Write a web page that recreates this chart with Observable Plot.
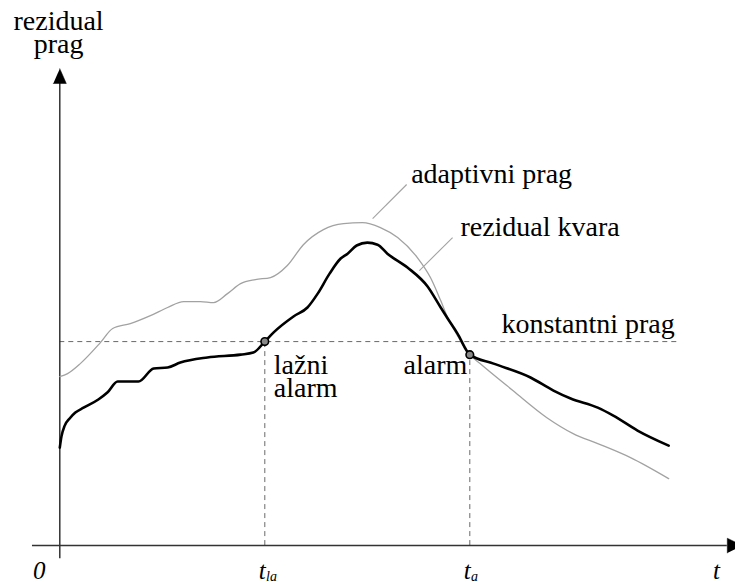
<!DOCTYPE html>
<html>
<head>
<meta charset="utf-8">
<script src="https://cdn.jsdelivr.net/npm/d3@7"></script>
<script src="https://cdn.jsdelivr.net/npm/@observablehq/plot@0.6"></script>
<style>
  html, body { margin: 0; padding: 0; background: #fff; }
</style>
</head>
<body>
<div id="chart"></div>
<script>
// ---- data (time t, residual value r; constant threshold = 1) ----
const tResidual = [0, 0.04, 0.12, 0.24, 0.38, 0.58, 0.94, 1.16, 1.41, 1.92, 2.29, 2.63, 2.94, 3.6, 4.41, 4.72, 5.0, 5.21, 5.7, 6.04, 6.29, 6.58, 6.85, 7.02, 7.24, 7.5, 7.75, 7.99, 8.48, 8.97, 9.29, 9.46, 9.7, 10.0, 10.58, 11.48, 12.04, 12.46, 13.12, 13.5, 14.09, 14.85];
const residual = [0.48, 0.534, 0.588, 0.623, 0.652, 0.676, 0.716, 0.75, 0.804, 0.804, 0.868, 0.873, 0.897, 0.922, 0.936, 0.946, 1.0, 1.044, 1.123, 1.167, 1.235, 1.333, 1.407, 1.431, 1.471, 1.485, 1.475, 1.431, 1.363, 1.27, 1.167, 1.113, 1.039, 0.936, 0.892, 0.824, 0.76, 0.721, 0.676, 0.637, 0.564, 0.49];

const tAdaptive = [0, 0.19, 0.5, 0.99, 1.29, 1.72, 2.21, 2.63, 3.02, 3.43, 3.75, 4.09, 4.41, 4.77, 5.14, 5.55, 5.94, 6.43, 6.92, 7.38, 7.82, 8.24, 8.72, 9.04, 9.29, 9.46, 9.7, 10.0, 10.25, 11.05, 11.88, 12.52, 13.12, 13.92, 14.85];
const adaptive = [0.828, 0.843, 0.892, 0.995, 1.064, 1.088, 1.127, 1.167, 1.196, 1.196, 1.191, 1.235, 1.284, 1.304, 1.314, 1.373, 1.475, 1.549, 1.578, 1.583, 1.559, 1.51, 1.412, 1.314, 1.201, 1.118, 1.029, 0.936, 0.892, 0.76, 0.627, 0.549, 0.5, 0.431, 0.328];

const constantThreshold = 1.0;
const thresholdEnd = 15.1;
const tFalseAlarm = 5;
const tAlarm = 10;
const rAlarm = 0.936;

// annotation labels and their anchor points (data units)
const labelText = ["adaptivni prag", "rezidual kvara", "konstantni prag", "lažni", "alarm", "alarm", "rezidual", "prag"];
const labelT =    [8.57, 9.77, 10.77, 5.22, 5.22, 9.94, -0.03, -0.03];
const labelR =    [1.775, 1.52, 1.044, 0.843, 0.730, 0.843, 2.525, 2.417];
const labelAnchor = ["start", "start", "start", "start", "start", "end", "middle", "middle"];

// leader lines from curves to labels
const leaderT1 = [7.63, 8.77];
const leaderR1 = [1.603, 1.348];
const leaderT2 = [8.46, 9.58];
const leaderR2 = [1.770, 1.510];

// x-axis tick labels (italic)
const tickText = ["0", "t", "t", "t"];
const tickT = [-0.50, 15.93, 5.02, 10.02];
const tickAnchor = ["middle", "start", "end", "end"];
const subText = ["la", "a"];
const subT = [5.03, 10.03];

// axis extents
const xAxisStart = -0.666, xAxisEnd = 16.28, xArrowTip = 16.65;
const yAxisStart = -0.064, yAxisEnd = 2.265, yArrowTip = 2.338;

// ---- build tables ----
const residualData = tResidual.map((t, i) => ({t, r: residual[i]}));
const adaptiveData = tAdaptive.map((t, i) => ({t, r: adaptive[i]}));
const labels = labelText.map((text, i) => ({text, t: labelT[i], r: labelR[i], anchor: labelAnchor[i]}));
const leaders = leaderT1.map((t1, i) => ({t1, r1: leaderR1[i], t2: leaderT2[i], r2: leaderR2[i]}));
const ticks = tickText.map((text, i) => ({text, t: tickT[i], anchor: tickAnchor[i]}));
const subs = subText.map((text, i) => ({text, t: subT[i]}));
const alarms = [{t: tFalseAlarm, r: constantThreshold}, {t: tAlarm, r: rAlarm}];
const yHalf = 0.159, xHalf = 0.036;
const yArrow = [{t: -yHalf, r: yAxisEnd}, {t: yHalf, r: yAxisEnd}, {t: 0, r: yArrowTip}];
const xArrow = [{t: xAxisEnd, r: -xHalf}, {t: xAxisEnd, r: xHalf}, {t: xArrowTip, r: 0}];

const serif = "Liberation Serif";
const dash = "5,4";

const textMarks = (rows, opts) => ["start", "middle", "end"].map(anchor =>
  Plot.text(rows.filter(d => d.anchor === anchor), {...opts, textAnchor: anchor}));

const chart = Plot.plot({
  width: 735,
  height: 582,
  margin: 0,
  x: {domain: [-1.446, 16.48], axis: null},
  y: {domain: [-0.181, 2.672], axis: null},
  style: {background: "#fff"},
  marks: [
    // reference dashed lines
    Plot.ruleY([constantThreshold], {x1: 0, x2: thresholdEnd, stroke: "#6a6a6a", strokeWidth: 1, strokeDasharray: dash}),
    Plot.ruleX(alarms, {x: "t", y1: 0, y2: "r", stroke: "#6a6a6a", strokeWidth: 1, strokeDasharray: dash}),
    // axes
    Plot.ruleY([0], {x1: xAxisStart, x2: xAxisEnd, stroke: "#333", strokeWidth: 1.5}),
    Plot.ruleX([0], {y1: yAxisStart, y2: yAxisEnd, stroke: "#333", strokeWidth: 1.5}),
    Plot.line(yArrow, {x: "t", y: "r", fill: "#000", stroke: "#000", strokeWidth: 0.5}),
    Plot.line(xArrow, {x: "t", y: "r", fill: "#000", stroke: "#000", strokeWidth: 0.5}),
    // curves
    Plot.line(adaptiveData, {x: "t", y: "r", stroke: "#a2a2a2", strokeWidth: 1.3, curve: "monotone-x"}),
    Plot.line(residualData, {x: "t", y: "r", stroke: "#000", strokeWidth: 2.6, curve: "monotone-x"}),
    // leaders
    Plot.link(leaders, {x1: "t1", y1: "r1", x2: "t2", y2: "r2", stroke: "#a2a2a2", strokeWidth: 1.1}),
    // alarm points
    Plot.dot(alarms, {x: "t", y: "r", r: 3.8, stroke: "#000", strokeWidth: 1.6, fill: "#888"}),
    // labels
    ...textMarks(labels, {x: "t", y: "r", text: "text", lineAnchor: "bottom",
      fontFamily: serif, fontSize: 28, fill: "#000"}),
    ...textMarks(ticks, {x: "t", y: -0.164, text: "text", lineAnchor: "bottom",
      fontFamily: serif, fontStyle: "italic", fontSize: 25, fill: "#000"}),
    Plot.text(subs, {x: "t", y: -0.172, text: "text", textAnchor: "start", lineAnchor: "bottom",
      fontFamily: serif, fontStyle: "italic", fontSize: 14, fill: "#000"})
  ]
});
document.getElementById("chart").appendChild(chart);
</script>
</body>
</html>
